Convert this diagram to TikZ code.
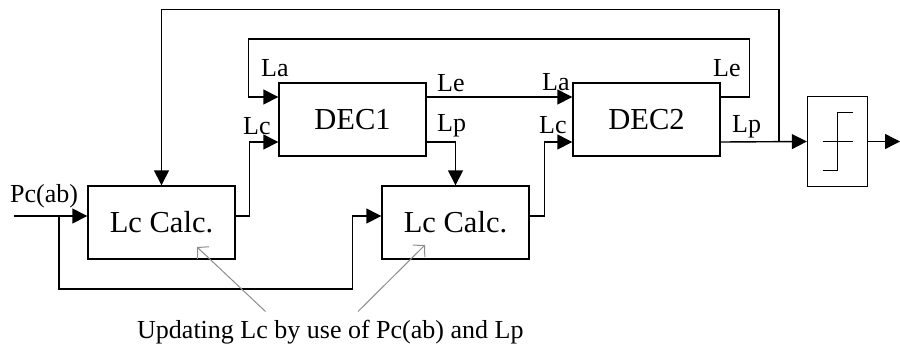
\documentclass[tikz,border=0pt]{standalone}
\usepackage{fontspec}
\setmainfont{Liberation Serif}
\usetikzlibrary{arrows.meta,calc}
\tikzset{
  blk/.style={draw, line width=1.4pt, minimum width=147pt, minimum height=73pt, inner sep=0pt, font=\fontsize{30.5}{34}\selectfont},
  lim/.style={draw, line width=1.4pt, minimum width=60pt, minimum height=90pt, inner sep=0pt},
  wire/.style={line width=1.4pt},
  arr/.style={line width=1.4pt, -{Triangle[length=15pt,width=15pt]}},
  lbl/.style={anchor=base west, inner sep=0pt, font=\fontsize{26}{30}\selectfont},
  notearr/.style={draw=gray!90, line width=1pt, -{Straight Barb[length=8pt,width=17pt]}}
}
\begin{document}
\begin{tikzpicture}[x=1pt,y=-1pt]
\useasboundingbox (0,0) rectangle (900,349);
% blocks
\node[blk] (dec1) at (352.5,119.5) {DEC1};
\node[blk] (dec2) at (646.5,119.5) {DEC2};
\node[blk] (calc1) at (161.5,222.5) {Lc Calc.};
\node[blk] (calc2) at (455.5,222.5) {Lc Calc.};
\node[lim] (hl) at (837.5,141.5) {};
% limiter symbol
\draw[wire] ($(hl.center)+(-15,0)$) -- ($(hl.center)+(15,0)$);
\draw[wire] ($(hl.center)+(-15,29)$) -- ($(hl.center)+(0,29)$) -- ($(hl.center)+(0,-29)$) -- ($(hl.center)+(15,-29)$);
% ports
\coordinate (d1la) at ([yshift=22.5pt]dec1.west);
\coordinate (d1lc) at ([yshift=-22.5pt]dec1.west);
\coordinate (d1le) at ([yshift=22.5pt]dec1.east);
\coordinate (d1lp) at ([yshift=-22.5pt]dec1.east);
\coordinate (d2la) at ([yshift=22.5pt]dec2.west);
\coordinate (d2lc) at ([yshift=-22.5pt]dec2.west);
\coordinate (d2le) at ([yshift=22.5pt]dec2.east);
\coordinate (d2lp) at ([yshift=-22.5pt]dec2.east);
\coordinate (c1in) at ([yshift=6.5pt]calc1.west);
\coordinate (c1out) at ([yshift=6.5pt]calc1.east);
\coordinate (c2in) at ([yshift=6.5pt]calc2.west);
\coordinate (c2out) at ([yshift=6.5pt]calc2.east);
\coordinate (pcin) at (14,216);
\coordinate (brp) at (59,216);
\coordinate (br) at (779,141.5);
\coordinate (out) at (900,141.5);
% connectors
\draw[arr] (d1le) -- (d2la);
\draw[arr] (d1lp) -| (calc2.north);
\draw[arr] (c1out) -- ++(14,0) |- (d1lc);
\draw[arr] (c2out) -- ++(15,0) |- (d2lc);
\draw[arr] (d2le) -- ++(29,0) -- ++(0,-58) -| ($(d1la)+(-30,0)$) -- (d1la);
\draw[arr] (d2lp) -- (hl.west);
\draw[arr] (br) -- ++(0,-132) -| (calc1.north);
\draw[arr] (hl.east) -- (out);
\draw[arr] (pcin) -- (c1in);
\draw[arr] (brp) -- ++(0,73) -| ($(c2in)+(-29,0)$) -- (c2in);
% labels
\node[lbl] (tla1) at (261,76) {La};
\node[lbl] (tlc1) at (243,134) {Lc};
\node[lbl] (tle1) at (437,91) {Le};
\node[lbl] (tlp1) at (437,131) {Lp};
\node[lbl] (tla2) at (542,90) {La};
\node[lbl] (tlc2) at (539,133) {Lc};
\node[lbl] (tle2) at (713,76) {Le};
\node[lbl] (tlp2) at (732,132) {Lp};
\node[lbl] (tpc) at (10,202) {Pc(ab)};
% note
\node[lbl] (note) at (137,338) {Updating Lc by use of Pc(ab) and Lp};
\coordinate (n1) at (265.5,311.5);
\coordinate (t1) at (197,247);
\coordinate (n2) at (358,311.5);
\coordinate (t2) at (425,245);
\draw[notearr] (n1) -- (t1);
\draw[notearr] (n2) -- (t2);
\end{tikzpicture}
\end{document}
